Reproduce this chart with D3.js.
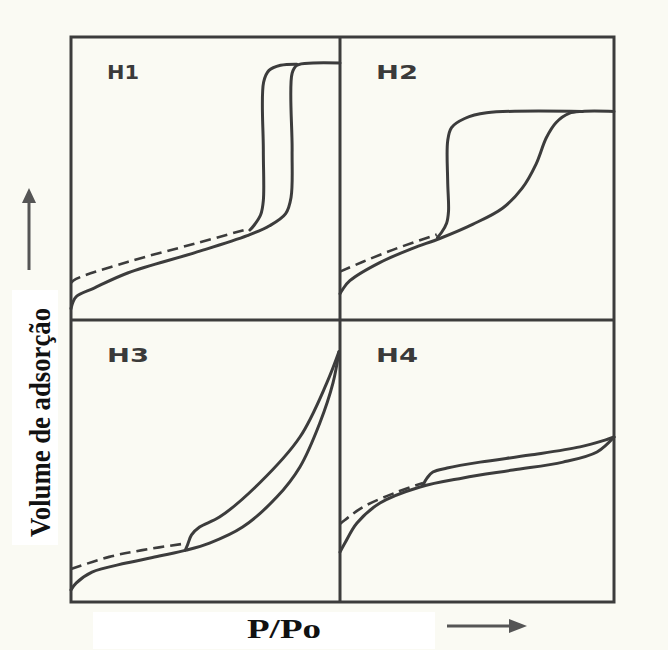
<!DOCTYPE html>
<html>
<head>
<meta charset="utf-8">
<script src="https://cdn.jsdelivr.net/npm/d3@7/dist/d3.min.js"></script>
<style>
  html, body { margin: 0; padding: 0; background: #fafaf3; }
  svg { display: block; }
</style>
</head>
<body>
<div id="chart"></div>
<script>
// ---- Data (normalized: x = P/Po 0..1, y = relative adsorbed volume 0..1 within each panel) ----
const panelNames = ["H1", "H2", "H3", "H4"];

const h1Adsorption = [[0,0.04],[0.019,0.082],[0.086,0.113],[0.213,0.167],[0.461,0.238],[0.655,0.298],[0.738,0.333],[0.798,0.376],[0.818,0.433],[0.822,0.6],[0.822,0.872],[0.84,0.9],[0.9,0.908],[1,0.908]];
const h1Desorption = [[0.84,0.904],[0.779,0.9],[0.736,0.882],[0.716,0.84],[0.715,0.6],[0.715,0.422],[0.705,0.372],[0.68,0.334],[0.665,0.318]];
const h1Dashed = [[0,0.131],[0.019,0.145],[0.213,0.206],[0.461,0.27],[0.663,0.323]];

const h2Adsorption = [[0,0.093],[0.011,0.11],[0.036,0.139],[0.145,0.203],[0.265,0.253],[0.364,0.288],[0.484,0.338],[0.593,0.395],[0.665,0.466],[0.716,0.552],[0.753,0.644],[0.789,0.698],[0.836,0.73],[0.884,0.737],[1,0.737]];
const h2Desorption = [[0.884,0.737],[0.535,0.732],[0.455,0.712],[0.407,0.68],[0.393,0.633],[0.393,0.491],[0.396,0.384],[0.389,0.342],[0.371,0.31],[0.356,0.292]];
const h2Dashed = [[0,0.171],[0.084,0.206],[0.207,0.253],[0.353,0.302]];

const h3Adsorption = [[0,0.043],[0.019,0.067],[0.078,0.106],[0.205,0.138],[0.328,0.163],[0.429,0.184],[0.515,0.209],[0.638,0.266],[0.765,0.372],[0.851,0.479],[0.925,0.635],[0.974,0.777],[0.996,0.887]];
const h3Desorption = [[0.996,0.887],[0.951,0.777],[0.851,0.585],[0.701,0.422],[0.552,0.301],[0.478,0.266],[0.448,0.238],[0.433,0.202],[0.425,0.184]];
const h3Dashed = [[0,0.117],[0.142,0.16],[0.265,0.184],[0.414,0.206]];

const h4Adsorption = [[0,0.177],[0.018,0.209],[0.062,0.28],[0.146,0.351],[0.292,0.408],[0.449,0.44],[0.631,0.468],[0.814,0.496],[0.938,0.532],[1,0.585]];
const h4Desorption = [[1,0.585],[0.967,0.574],[0.876,0.55],[0.693,0.521],[0.511,0.496],[0.391,0.475],[0.339,0.461],[0.318,0.44],[0.303,0.415]];
const h4Dashed = [[0,0.277],[0.018,0.291],[0.084,0.337],[0.208,0.39],[0.303,0.422]];

const yAxisLabel = "Volume de adsorção";
const xAxisLabel = "P/Po";

// ---- Layout ----
const W = 668, H = 650;
const box = { left: 71, right: 614, top: 37, bottom: 602, midX: 340, midY: 320 };
const ink = "#3c3c3c";

const svg = d3.select("#chart").append("svg").attr("width", W).attr("height", H);
svg.append("rect").attr("width", W).attr("height", H).attr("fill", "#fafaf3");

// white label backgrounds
svg.append("rect").attr("x", 12).attr("y", 290).attr("width", 46).attr("height", 255).attr("fill", "#ffffff");
svg.append("rect").attr("x", 93).attr("y", 612).attr("width", 342).attr("height", 37).attr("fill", "#ffffff");

const panels = [
  { name: panelNames[0], x0: box.left, x1: box.midX, y0: box.top, y1: box.midY, ads: h1Adsorption, des: h1Desorption, dash: h1Dashed, labelW: 32 },
  { name: panelNames[1], x0: box.midX, x1: box.right, y0: box.top, y1: box.midY, ads: h2Adsorption, des: h2Desorption, dash: h2Dashed, labelW: 42 },
  { name: panelNames[2], x0: box.left, x1: box.midX, y0: box.midY, y1: box.bottom, ads: h3Adsorption, des: h3Desorption, dash: h3Dashed, labelW: 42 },
  { name: panelNames[3], x0: box.midX, x1: box.right, y0: box.midY, y1: box.bottom, ads: h4Adsorption, des: h4Desorption, dash: h4Dashed, labelW: 42 }
];

panels.forEach(p => {
  const x = d3.scaleLinear().domain([0, 1]).range([p.x0, p.x1]);
  const y = d3.scaleLinear().domain([0, 1]).range([p.y1, p.y0]);
  const line = d3.line().x(d => x(d[0])).y(d => y(d[1])).curve(d3.curveCatmullRom.alpha(0.5));
  const g = svg.append("g");
  g.append("path").attr("d", line(p.dash)).attr("fill", "none").attr("stroke", ink)
    .attr("stroke-width", 2.6).attr("stroke-dasharray", "11,6").attr("stroke-linecap", "butt");
  g.append("path").attr("d", line(p.ads)).attr("fill", "none").attr("stroke", ink)
    .attr("stroke-width", 3).attr("stroke-linejoin", "round").attr("stroke-linecap", "round");
  g.append("path").attr("d", line(p.des)).attr("fill", "none").attr("stroke", ink)
    .attr("stroke-width", 3).attr("stroke-linejoin", "round").attr("stroke-linecap", "round");
  g.append("text").attr("x", p.x0 + 36).attr("y", p.y0 + 42)
    .attr("font-family", "DejaVu Sans, sans-serif").attr("font-weight", "bold")
    .attr("font-size", 20).attr("textLength", p.labelW).attr("lengthAdjust", "spacingAndGlyphs")
    .attr("fill", "#3a3a3a").text(p.name);
});

// frame and dividers
svg.append("rect").attr("x", box.left).attr("y", box.top)
  .attr("width", box.right - box.left).attr("height", box.bottom - box.top)
  .attr("fill", "none").attr("stroke", ink).attr("stroke-width", 3);
svg.append("line").attr("x1", box.midX).attr("x2", box.midX).attr("y1", box.top).attr("y2", box.bottom)
  .attr("stroke", ink).attr("stroke-width", 3);
svg.append("line").attr("x1", box.left).attr("x2", box.right).attr("y1", box.midY).attr("y2", box.midY)
  .attr("stroke", ink).attr("stroke-width", 3);

// axis labels
svg.append("text").attr("transform", "translate(50,537) rotate(-90)")
  .attr("font-family", "Liberation Serif, Times New Roman, serif").attr("font-weight", "bold")
  .attr("font-size", 30).attr("textLength", 229).attr("lengthAdjust", "spacingAndGlyphs")
  .attr("fill", "#111").text(yAxisLabel);
svg.append("text").attr("x", 247).attr("y", 638)
  .attr("font-family", "Liberation Serif, Times New Roman, serif").attr("font-weight", "bold")
  .attr("font-size", 27).attr("textLength", 74).attr("lengthAdjust", "spacingAndGlyphs")
  .attr("fill", "#111").text(xAxisLabel);

// arrows
svg.append("line").attr("x1", 29).attr("x2", 29).attr("y1", 270).attr("y2", 198)
  .attr("stroke", "#555").attr("stroke-width", 3);
svg.append("path").attr("d", "M22,203 L29,188 L36,203 Z").attr("fill", "#555");
svg.append("line").attr("x1", 447).attr("x2", 515).attr("y1", 626).attr("y2", 626)
  .attr("stroke", "#555").attr("stroke-width", 3);
svg.append("path").attr("d", "M509,619 L527,626 L509,633 Z").attr("fill", "#555");
</script>
</body>
</html>
